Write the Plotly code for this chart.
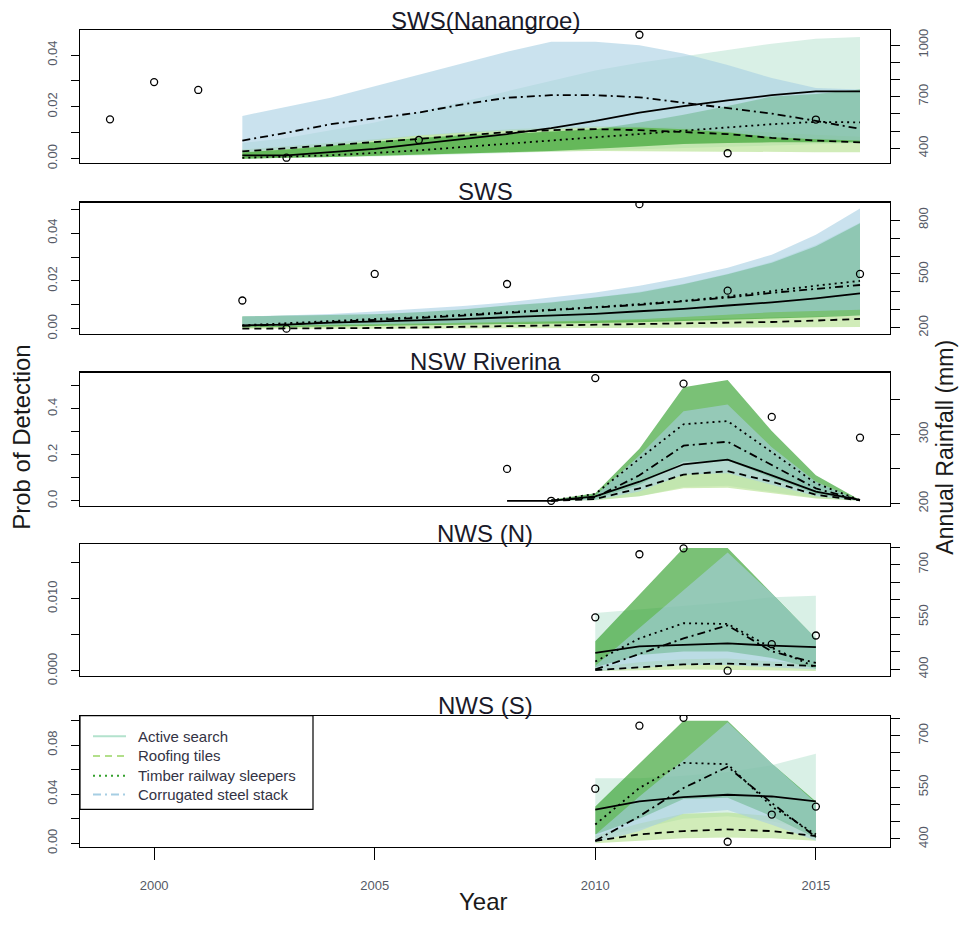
import plotly.graph_objects as go

W, H = 960, 927

# ---------------- data ----------------
# Panel 1: SWS(Nanangroe)
NAN_YEARS = list(range(2002, 2017))
NAN_ACTIVE_LO = [0.0, 0.0002, 0.0005, 0.0008, 0.0012, 0.0016, 0.002, 0.0025, 0.003, 0.0035, 0.004, 0.0045, 0.005, 0.0055, 0.006]
NAN_ACTIVE_MID = [0.0013, 0.0013, 0.0025, 0.0038, 0.0057, 0.0076, 0.0095, 0.0118, 0.0146, 0.0178, 0.0203, 0.0225, 0.0245, 0.026, 0.026]
NAN_ACTIVE_HI = [0.006, 0.008, 0.011, 0.014, 0.018, 0.022, 0.026, 0.030, 0.034, 0.037, 0.0395, 0.0418, 0.0444, 0.0463, 0.047]
NAN_ROOF_LO = [0.0, 0.0003, 0.0006, 0.001, 0.0015, 0.002, 0.0025, 0.0028, 0.003, 0.003, 0.003, 0.0028, 0.0026, 0.0025, 0.0025]
NAN_ROOF_MID = [0.0028, 0.004, 0.0051, 0.0063, 0.0076, 0.009, 0.0102, 0.011, 0.0114, 0.011, 0.0102, 0.0095, 0.008, 0.007, 0.0063]
NAN_ROOF_HI = [0.0035, 0.0048, 0.006, 0.0075, 0.009, 0.0103, 0.0113, 0.012, 0.0125, 0.0125, 0.012, 0.011, 0.01, 0.0092, 0.0085]
NAN_TIMBER_LO = [0.0, 0.0003, 0.0006, 0.001, 0.0015, 0.002, 0.0025, 0.003, 0.0038, 0.0047, 0.0057, 0.006, 0.0063, 0.0063, 0.0063]
NAN_TIMBER_MID = [0.0003, 0.0008, 0.0013, 0.0022, 0.0032, 0.0045, 0.0057, 0.007, 0.0083, 0.0095, 0.0108, 0.012, 0.0133, 0.0142, 0.014]
NAN_TIMBER_HI = [0.0025, 0.0035, 0.005, 0.0065, 0.008, 0.009, 0.0095, 0.0105, 0.0114, 0.014, 0.017, 0.0203, 0.024, 0.025, 0.0267]
NAN_STEEL_LO = [0.0025, 0.0037, 0.005, 0.007, 0.0089, 0.01, 0.0108, 0.0115, 0.012, 0.012, 0.0114, 0.0102, 0.0083, 0.0075, 0.007]
NAN_STEEL_MID = [0.007, 0.010, 0.0133, 0.0155, 0.0178, 0.021, 0.0235, 0.0245, 0.0245, 0.0237, 0.0216, 0.0197, 0.0174, 0.0146, 0.0115]
NAN_STEEL_HI = [0.0165, 0.020, 0.0235, 0.028, 0.0324, 0.037, 0.0413, 0.0451, 0.0451, 0.0438, 0.0406, 0.0362, 0.0311, 0.0273, 0.0267]
NAN_RAIN_YEARS = [1999, 2000, 2001, 2003, 2006, 2011, 2013, 2015]
NAN_RAIN = [568, 785, 739, 345, 448, 1060, 371, 567]

# Panel 2: SWS
SWS_YEARS = list(range(2002, 2017))
SWS_ACTIVE_LO = [0.001, 0.0013, 0.0015, 0.0018, 0.0021, 0.0024, 0.0028, 0.0031, 0.0034, 0.004, 0.0048, 0.0058, 0.0069, 0.0074, 0.0079]
SWS_ACTIVE_MID = [0.0014, 0.0017, 0.0025, 0.003, 0.0034, 0.004, 0.0048, 0.0055, 0.0062, 0.0073, 0.0083, 0.0097, 0.011, 0.0127, 0.0148]
SWS_ACTIVE_HI = [0.0051, 0.0054, 0.0057, 0.0062, 0.007, 0.0081, 0.0097, 0.0112, 0.0132, 0.0155, 0.0188, 0.023, 0.028, 0.035, 0.0445]
SWS_ROOF_LO = [0.0, 0.0, 0.0, 0.0, 0.0, 0.0, 0.0, 0.0001, 0.0002, 0.0003, 0.0004, 0.0005, 0.0006, 0.0006, 0.0007]
SWS_ROOF_MID = [0.0, 0.0, 0.0, 0.0003, 0.0005, 0.0008, 0.001, 0.0012, 0.0014, 0.0017, 0.0021, 0.0024, 0.0028, 0.0034, 0.0041]
SWS_ROOF_HI = [0.0008, 0.001, 0.0012, 0.0015, 0.0018, 0.0021, 0.0024, 0.0027, 0.003, 0.0034, 0.0038, 0.0043, 0.0048, 0.0052, 0.0055]
SWS_TIMBER_LO = [0.0005, 0.0007, 0.0009, 0.0011, 0.0013, 0.0015, 0.0018, 0.0021, 0.0024, 0.0027, 0.0031, 0.0036, 0.0042, 0.0048, 0.0055]
SWS_TIMBER_MID = [0.0014, 0.0024, 0.0034, 0.0041, 0.0048, 0.0058, 0.0069, 0.008, 0.009, 0.0103, 0.0117, 0.0135, 0.0159, 0.018, 0.020]
SWS_TIMBER_HI = [0.0051, 0.0053, 0.0055, 0.006, 0.0069, 0.008, 0.0097, 0.011, 0.0131, 0.0152, 0.0186, 0.0228, 0.0276, 0.0345, 0.0441]
SWS_STEEL_LO = [0.001, 0.0013, 0.0015, 0.0018, 0.0021, 0.0024, 0.0028, 0.0031, 0.0034, 0.004, 0.0048, 0.0058, 0.0069, 0.0074, 0.0079]
SWS_STEEL_MID = [0.0012, 0.0018, 0.0028, 0.0035, 0.0045, 0.0055, 0.0066, 0.0077, 0.0088, 0.010, 0.0115, 0.013, 0.015, 0.0165, 0.0183]
SWS_STEEL_HI = [0.0051, 0.0056, 0.0062, 0.0072, 0.0083, 0.0095, 0.011, 0.013, 0.0152, 0.018, 0.0214, 0.0255, 0.031, 0.0393, 0.0503]
SWS_RAIN_YEARS = [2002, 2003, 2005, 2008, 2011, 2013, 2016]
SWS_RAIN = [352, 195, 500, 444, 889, 407, 500]

# Panel 3: NSW Riverina
RIV_ACTIVE_YEARS = list(range(2008, 2017))
RIV_ACTIVE_LO = [0.0, 0.0, 0.003, 0.02, 0.06, 0.065, 0.04, 0.012, 0.0]
RIV_ACTIVE_MID = [0.0, 0.0, 0.019, 0.083, 0.159, 0.179, 0.111, 0.04, 0.004]
RIV_ACTIVE_HI = [0.0, 0.002, 0.03, 0.17, 0.33, 0.35, 0.2, 0.075, 0.004]
RIV_YEARS = list(range(2009, 2017))
RIV_ROOF_LO = [0.0, 0.002, 0.02, 0.055, 0.057, 0.035, 0.01, 0.0]
RIV_ROOF_MID = [0.0, 0.008, 0.054, 0.114, 0.129, 0.083, 0.026, 0.002]
RIV_ROOF_HI = [0.002, 0.02, 0.1, 0.17, 0.18, 0.12, 0.045, 0.003]
RIV_TIMBER_LO = [0.0, 0.008, 0.07, 0.17, 0.175, 0.1, 0.03, 0.0]
RIV_TIMBER_MID = [0.002, 0.03, 0.183, 0.333, 0.347, 0.211, 0.076, 0.003]
RIV_TIMBER_HI = [0.005, 0.033, 0.226, 0.494, 0.526, 0.304, 0.111, 0.004]
RIV_STEEL_LO = [0.0, 0.004, 0.04, 0.115, 0.12, 0.07, 0.02, 0.0]
RIV_STEEL_MID = [0.001, 0.015, 0.111, 0.24, 0.257, 0.154, 0.054, 0.002]
RIV_STEEL_HI = [0.003, 0.022, 0.197, 0.39, 0.419, 0.233, 0.083, 0.003]
RIV_RAIN_YEARS = [2008, 2009, 2010, 2012, 2014, 2016]
RIV_RAIN = [250, 204, 381, 373, 325, 295]

# Panel 4: NWS (N)
NWSN_YEARS = list(range(2010, 2016))
NWSN_ACTIVE_LO = [0.0003, 0.0008, 0.001, 0.001, 0.0009, 0.0007]
NWSN_ACTIVE_MID = [0.0025, 0.0034, 0.0036, 0.0038, 0.0035, 0.0033]
NWSN_ACTIVE_HI = [0.008, 0.0085, 0.009, 0.0095, 0.0102, 0.0104]
NWSN_ROOF_LO = [0.0, 0.0001, 0.0002, 0.0002, 0.0001, 0.0]
NWSN_ROOF_MID = [0.0001, 0.0005, 0.0009, 0.001, 0.0008, 0.0007]
NWSN_ROOF_HI = [0.0005, 0.0012, 0.0016, 0.0017, 0.0013, 0.001]
NWSN_TIMBER_LO = [0.0005, 0.0022, 0.0027, 0.0027, 0.0018, 0.0003]
NWSN_TIMBER_MID = [0.0013, 0.0045, 0.0066, 0.0065, 0.0032, 0.0005]
NWSN_TIMBER_HI = [0.0041, 0.0105, 0.017, 0.017, 0.0107, 0.0045]
NWSN_STEEL_LO = [0.0, 0.0004, 0.0008, 0.0008, 0.0005, 0.0002]
NWSN_STEEL_MID = [0.0002, 0.0024, 0.0045, 0.0063, 0.0027, 0.0011]
NWSN_STEEL_HI = [0.0007, 0.0059, 0.0111, 0.0164, 0.0107, 0.0045]
NWSN_RAIN_YEARS = list(range(2010, 2016))
NWSN_RAIN = [549, 730, 747, 396, 472, 497]

# Panel 5: NWS (S)
NWSS_YEARS = list(range(2010, 2016))
NWSS_ACTIVE_LO = [0.005, 0.012, 0.02, 0.022, 0.018, 0.01]
NWSS_ACTIVE_MID = [0.0274, 0.0341, 0.0376, 0.0395, 0.0381, 0.0341]
NWSS_ACTIVE_HI = [0.0529, 0.053, 0.055, 0.058, 0.0636, 0.073]
NWSS_ROOF_LO = [0.0, 0.002, 0.004, 0.0046, 0.004, 0.002]
NWSS_ROOF_MID = [0.0019, 0.0072, 0.0099, 0.0113, 0.0099, 0.0059]
NWSS_ROOF_HI = [0.006, 0.016, 0.024, 0.025, 0.022, 0.01]
NWSS_TIMBER_LO = [0.0072, 0.020, 0.036, 0.037, 0.022, 0.004]
NWSS_TIMBER_MID = [0.0153, 0.045, 0.0655, 0.0644, 0.030, 0.0072]
NWSS_TIMBER_HI = [0.030, 0.065, 0.0999, 0.0999, 0.065, 0.034]
NWSS_STEEL_LO = [0.0005, 0.01, 0.024, 0.027, 0.015, 0.002]
NWSS_STEEL_MID = [0.0019, 0.022, 0.045, 0.0623, 0.0328, 0.005]
NWSS_STEEL_HI = [0.007, 0.038, 0.0677, 0.0985, 0.065, 0.0328]
NWSS_RAIN_YEARS = list(range(2010, 2016))
NWSS_RAIN = [546, 729, 752, 392, 471, 494]

PANEL_TITLES = ["SWS(Nanangroe)", "SWS", "NSW Riverina", "NWS (N)", "NWS (S)"]
LEGEND_LABELS = ["Active search", "Roofing tiles", "Timber railway sleepers", "Corrugated steel stack"]
X_TICKS = [2000, 2005, 2010, 2015]

LEFT_TICKS = [
    [0.0, 0.01, 0.02, 0.03, 0.04],
    [0.0, 0.01, 0.02, 0.03, 0.04, 0.05],
    [0.0, 0.1, 0.2, 0.3, 0.4, 0.5],
    [0.0, 0.005, 0.010, 0.015],
    [0.0, 0.02, 0.04, 0.06, 0.08, 0.10],
]
LEFT_LABELS = [
    ["0.00", "", "0.02", "", "0.04"],
    ["0.00", "", "0.02", "", "0.04", ""],
    ["0.0", "", "0.2", "", "0.4", ""],
    ["0.000", "", "0.010", ""],
    ["0.00", "", "0.04", "", "0.08", ""],
]
RIGHT_TICKS = [
    [400, 500, 600, 700, 800, 900, 1000],
    [200, 300, 400, 500, 600, 700, 800],
    [200, 250, 300, 350],
    [400, 450, 500, 550, 600, 650, 700, 750],
    [400, 450, 500, 550, 600, 650, 700, 750],
]
RIGHT_LABELS = [
    ["400", "", "", "700", "", "", "1000"],
    ["200", "", "", "500", "", "", "800"],
    ["200", "", "300", ""],
    ["400", "", "", "550", "", "", "700", ""],
    ["400", "", "", "550", "", "", "700", ""],
]
LEFT_RANGES = [[-0.0017, 0.0497], [-0.0021, 0.0528], [-0.021, 0.558], [-0.00065, 0.0176], [-0.0027, 0.1039]]
RIGHT_RANGES = [[314, 1088], [167, 898], [197, 389], [382, 760], [378, 758]]
X_RANGE = [1998.32, 2016.68]

# ---------------- styling ----------------
FONT = "Liberation Sans, Arial, Helvetica, sans-serif"
FILL = {
    "active": "rgba(179,226,205,0.5)",
    "roof": "rgba(178,223,138,0.6)",
    "timber": "rgba(51,160,44,0.65)",
    "steel": "rgba(166,206,227,0.6)",
}
LEG_COLORS = ["#b3e2cd", "#b2df8a", "#33a02c", "#a6cee3"]
DASH = {
    "active": "solid",
    "roof": "7px,5px",
    "timber": "2px,4px",
    "steel": "8px,4px,2px,4px",
}
TICK_COLOR = "#555a66"

PANEL_PX = [(29.3, 164.0), (204.0, 336.7), (376.0, 510.7), (549.3, 682.7), (723.3, 855.7)]
TITLE_PY = [20, 192.5, 365, 539, 713]
BOX_LEFT, BOX_RIGHT = 80, 890


def py(p):
    return 1 - p / H


def px(p):
    return p / W


panels = [
    dict(bands=[
        ("active", NAN_YEARS, NAN_ACTIVE_LO, NAN_ACTIVE_MID, NAN_ACTIVE_HI),
        ("roof", NAN_YEARS, NAN_ROOF_LO, NAN_ROOF_MID, NAN_ROOF_HI),
        ("timber", NAN_YEARS, NAN_TIMBER_LO, NAN_TIMBER_MID, NAN_TIMBER_HI),
        ("steel", NAN_YEARS, NAN_STEEL_LO, NAN_STEEL_MID, NAN_STEEL_HI),
    ], rain=(NAN_RAIN_YEARS, NAN_RAIN)),
    dict(bands=[
        ("active", SWS_YEARS, SWS_ACTIVE_LO, SWS_ACTIVE_MID, SWS_ACTIVE_HI),
        ("roof", SWS_YEARS, SWS_ROOF_LO, SWS_ROOF_MID, SWS_ROOF_HI),
        ("timber", SWS_YEARS, SWS_TIMBER_LO, SWS_TIMBER_MID, SWS_TIMBER_HI),
        ("steel", SWS_YEARS, SWS_STEEL_LO, SWS_STEEL_MID, SWS_STEEL_HI),
    ], rain=(SWS_RAIN_YEARS, SWS_RAIN)),
    dict(bands=[
        ("active", RIV_ACTIVE_YEARS, RIV_ACTIVE_LO, RIV_ACTIVE_MID, RIV_ACTIVE_HI),
        ("roof", RIV_YEARS, RIV_ROOF_LO, RIV_ROOF_MID, RIV_ROOF_HI),
        ("timber", RIV_YEARS, RIV_TIMBER_LO, RIV_TIMBER_MID, RIV_TIMBER_HI),
        ("steel", RIV_YEARS, RIV_STEEL_LO, RIV_STEEL_MID, RIV_STEEL_HI),
    ], rain=(RIV_RAIN_YEARS, RIV_RAIN)),
    dict(bands=[
        ("active", NWSN_YEARS, NWSN_ACTIVE_LO, NWSN_ACTIVE_MID, NWSN_ACTIVE_HI),
        ("roof", NWSN_YEARS, NWSN_ROOF_LO, NWSN_ROOF_MID, NWSN_ROOF_HI),
        ("timber", NWSN_YEARS, NWSN_TIMBER_LO, NWSN_TIMBER_MID, NWSN_TIMBER_HI),
        ("steel", NWSN_YEARS, NWSN_STEEL_LO, NWSN_STEEL_MID, NWSN_STEEL_HI),
    ], rain=(NWSN_RAIN_YEARS, NWSN_RAIN)),
    dict(bands=[
        ("active", NWSS_YEARS, NWSS_ACTIVE_LO, NWSS_ACTIVE_MID, NWSS_ACTIVE_HI),
        ("roof", NWSS_YEARS, NWSS_ROOF_LO, NWSS_ROOF_MID, NWSS_ROOF_HI),
        ("timber", NWSS_YEARS, NWSS_TIMBER_LO, NWSS_TIMBER_MID, NWSS_TIMBER_HI),
        ("steel", NWSS_YEARS, NWSS_STEEL_LO, NWSS_STEEL_MID, NWSS_STEEL_HI),
    ], rain=(NWSS_RAIN_YEARS, NWSS_RAIN)),
]

fig = go.Figure()
layout = {}

for i, panel in enumerate(panels):
    n = i + 1
    xref = "x" if n == 1 else f"x{n}"
    xkey = "xaxis" if n == 1 else f"xaxis{n}"
    L, R = 2 * n - 1, 2 * n
    yl_ref = "y" if L == 1 else f"y{L}"
    yl_key = "yaxis" if L == 1 else f"yaxis{L}"
    yr_ref = f"y{R}"
    yr_key = f"yaxis{R}"
    top, bot = PANEL_PX[i]
    dom = [py(bot), py(top)]
    last = (n == 5)

    for key, yrs, lo, mid, hi in panel["bands"]:
        fig.add_trace(go.Scatter(
            x=list(yrs) + list(yrs)[::-1], y=list(hi) + list(lo)[::-1],
            fill="toself", fillcolor=FILL[key], mode="lines",
            line=dict(width=0, color="rgba(0,0,0,0)"),
            hoverinfo="skip", showlegend=False, xaxis=xref, yaxis=yl_ref))
    for key, yrs, lo, mid, hi in panel["bands"]:
        fig.add_trace(go.Scatter(
            x=yrs, y=mid, mode="lines",
            line=dict(color="black", width=1.8, dash=DASH[key]),
            showlegend=False, xaxis=xref, yaxis=yl_ref))
    ry, rv = panel["rain"]
    fig.add_trace(go.Scatter(
        x=ry, y=rv, mode="markers",
        marker=dict(symbol="circle-open", size=7, color="black", line=dict(width=1.3, color="black")),
        showlegend=False, xaxis=xref, yaxis=yr_ref))

    layout[xkey] = dict(
        domain=[px(BOX_LEFT), px(BOX_RIGHT)], anchor=yl_ref, range=X_RANGE,
        showline=True, mirror=True, linecolor="black", linewidth=1.2,
        showgrid=False, zeroline=False,
        tickvals=X_TICKS, ticktext=[str(t) for t in X_TICKS],
        ticks="outside" if last else "", ticklen=12, tickcolor="black", tickwidth=1,
        showticklabels=last, tickfont=dict(family=FONT, size=13, color=TICK_COLOR),
        ticklabelstandoff=15,
    )
    layout[yl_key] = dict(
        domain=dom, anchor=xref, range=LEFT_RANGES[i],
        showline=True, linecolor="black", linewidth=1.2, showgrid=False, zeroline=False,
        tickvals=LEFT_TICKS[i], ticktext=LEFT_LABELS[i], ticks="outside", ticklen=8,
        tickcolor="black", tickwidth=1, tickangle=-90,
        tickfont=dict(family=FONT, size=13, color=TICK_COLOR), ticklabelstandoff=9,
    )
    layout[yr_key] = dict(
        domain=dom, anchor=xref, overlaying=yl_ref, side="right", range=RIGHT_RANGES[i],
        showline=True, linecolor="black", linewidth=1.2, showgrid=False, zeroline=False,
        tickvals=RIGHT_TICKS[i], ticktext=RIGHT_LABELS[i], ticks="outside", ticklen=9,
        tickcolor="black", tickwidth=1, tickangle=-90,
        tickfont=dict(family=FONT, size=13, color=TICK_COLOR), ticklabelstandoff=12,
    )

annotations = []
for i, t in enumerate(PANEL_TITLES):
    annotations.append(dict(
        text=t, x=px((BOX_LEFT + BOX_RIGHT) / 2), y=py(TITLE_PY[i]), xref="paper", yref="paper",
        xanchor="center", yanchor="middle", showarrow=False,
        font=dict(family=FONT, size=24, color="#1a1a2a")))

annotations += [
    dict(text="Year", x=px(483), y=py(911), xref="paper", yref="paper", xanchor="center",
         yanchor="middle", showarrow=False, font=dict(family=FONT, size=24, color="#1a1a1a")),
    dict(text="Prob of Detection", x=px(22), y=py(442), xref="paper", yref="paper",
         xanchor="center", yanchor="middle", textangle=-90, showarrow=False,
         font=dict(family=FONT, size=24, color="#1a1a1a")),
    dict(text="Annual Rainfall (mm)", x=px(945), y=py(452), xref="paper", yref="paper",
         xanchor="center", yanchor="middle", textangle=-90, showarrow=False,
         font=dict(family=FONT, size=23, color="#1a1a1a")),
]

LEG_BOX = (80, 723.3, 313, 818)
LEG_Y = [744, 764, 784, 803]
LEG_DASH = ["solid", "7px,5px", "2px,4px", "8px,4px,2px,4px"]
shapes = [dict(type="rect", xref="paper", yref="paper",
               x0=px(LEG_BOX[0]), x1=px(LEG_BOX[2]), y0=py(LEG_BOX[3]), y1=py(LEG_BOX[1]),
               line=dict(color="black", width=1.2), fillcolor="white", layer="above")]
for lab, col, dsh, yy in zip(LEGEND_LABELS, LEG_COLORS, LEG_DASH, LEG_Y):
    shapes.append(dict(type="line", xref="paper", yref="paper", x0=px(93), x1=px(126),
                       y0=py(yy), y1=py(yy), line=dict(color=col, width=2, dash=dsh), layer="above"))
    annotations.append(dict(text=lab, x=px(136), y=py(yy), xref="paper", yref="paper",
                            xanchor="left", yanchor="middle", showarrow=False,
                            font=dict(family=FONT, size=15, color="#333344")))

fig.update_layout(
    width=W, height=H, margin=dict(l=0, r=0, t=0, b=0),
    paper_bgcolor="white", plot_bgcolor="white", showlegend=False, hovermode=False,
    annotations=annotations, shapes=shapes, **layout)

# remove the page's default body margin so the 960x927 figure fills the window exactly
fig.write_html("out.html", config={"displayModeBar": False, "staticPlot": True},
               post_script="document.body.style.margin='0px';document.body.style.overflow='hidden';")
